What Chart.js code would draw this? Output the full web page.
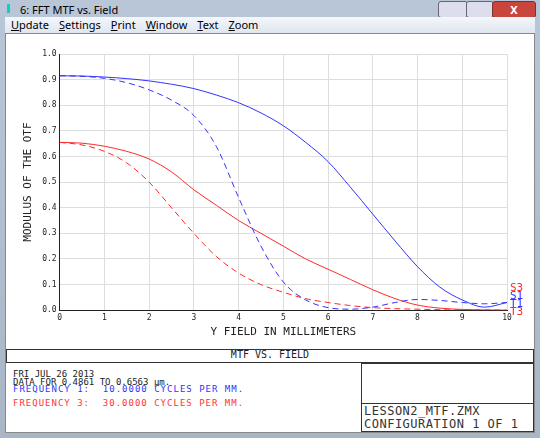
<!DOCTYPE html>
<html><head><meta charset="utf-8">
<script src="https://cdn.jsdelivr.net/npm/chart.js@4"></script>
<style>
body{margin:0;width:540px;height:438px;overflow:hidden;font-family:"Segoe UI","Noto Sans",sans-serif;background:#bfc9d6}
#win{position:absolute;left:0;top:0;width:540px;height:438px;background:linear-gradient(#b8c6d8,#a9b6c6)}
#title{position:absolute;left:20px;top:2px;font-size:11px;color:#000}
#icon{position:absolute;left:7px;top:4px;width:3px;height:9px;background:#1cc}
#btns{position:absolute;right:6px;top:0;width:96px;height:18px}
#menu{position:absolute;left:5px;top:17px;width:530px;height:16px;background:linear-gradient(#f4f7fb,#dfe6ef);font-size:11px}
#menu span{margin-left:6px;margin-right:4px;line-height:16px}
#content{position:absolute;left:5px;top:33px;width:530px;height:400px;background:#fff;border:1px solid #888;box-sizing:border-box}
#wrap{position:absolute;left:0;top:0;width:528px;height:305px}
.mono{font-family:"DejaVu Sans Mono",monospace;position:absolute;white-space:pre}
.box{position:absolute;border:1px solid #333;box-sizing:border-box}
</style></head><body>
<div id="win">
<div id="icon"></div><div id="title">6: FFT MTF vs. Field</div>
<div id="btns"><div style="position:absolute;left:0;top:1px;width:28px;height:15px;background:#dde;border:1px solid #667;border-radius:3px"></div><div style="position:absolute;left:28px;top:1px;width:26px;height:15px;background:#dde;border:1px solid #667;border-radius:3px"></div><div style="position:absolute;left:54px;top:1px;width:42px;height:15px;background:#c9463d;border:1px solid #733;border-radius:3px;color:#fff;font-size:11px;text-align:center;font-weight:bold">X</div></div>
<div id="menu"><span><u>U</u>pdate</span><span><u>S</u>ettings</span><span><u>P</u>rint</span><span><u>W</u>indow</span><span><u>T</u>ext</span><span><u>Z</u>oom</span></div>
<div id="content">
<div id="wrap"><canvas id="c"></canvas></div>
<div class="box" style="left:0;top:315px;width:528px;height:14px"></div>
<div class="mono" style="left:0;top:315px;width:528px;text-align:center;font-size:10px;color:#222">MTF VS. FIELD</div>
<div class="box" style="left:355px;top:329px;width:173px;height:69px"></div>
<div class="box" style="left:355px;top:369px;width:173px;height:29px"></div>
<div class="mono" style="left:7px;top:336px;font-size:9px;line-height:8px;color:#222">FRI JUL 26 2013
DATA FOR 0.4861 TO 0.6563 µm.</div>
<div class="mono" style="left:7px;top:350px;font-size:9px;letter-spacing:1px;color:#33f">FREQUENCY 1:  10.0000 CYCLES PER MM.</div>
<div class="mono" style="left:7px;top:364px;font-size:9px;letter-spacing:1px;color:#f33">FREQUENCY 3:  30.0000 CYCLES PER MM.</div>
<div class="mono" style="left:358px;top:371px;font-size:12px;line-height:13px;letter-spacing:0.5px;color:#333">LESSON2_MTF.ZMX
CONFIGURATION 1 OF 1</div>
</div></div>
<script>
const field = [0,0.5,1,1.5,2,2.5,3,3.5,4,4.5,5,5.5,6,6.5,7,7.5,8,8.5,9,9.5,10];
const s1 = [0.915,0.914,0.91,0.904,0.895,0.882,0.865,0.84,0.81,0.77,0.72,0.655,0.58,0.48,0.375,0.27,0.17,0.09,0.04,0.012,0.03];
const t1 = [0.915,0.913,0.905,0.888,0.86,0.82,0.76,0.64,0.44,0.25,0.11,0.04,0.01,0.004,0.012,0.03,0.042,0.038,0.03,0.025,0.03];
const s3 = [0.655,0.652,0.64,0.62,0.59,0.54,0.47,0.41,0.35,0.3,0.25,0.2,0.16,0.12,0.08,0.045,0.02,0.008,0.003,0.001,0.0];
const t3 = [0.655,0.645,0.62,0.575,0.5,0.4,0.3,0.21,0.145,0.1,0.07,0.045,0.03,0.018,0.01,0.006,0.004,0.002,0.001,0.001,0.0];
const yTicks = [0,0.1,0.2,0.3,0.4,0.5,0.6,0.7,0.8,0.9,1.0];
const BLUE = '#3333ff', RED = '#ff2a2a';
const mono = {family:'"DejaVu Sans Mono", monospace', size:8};

const sideLabels = {
  id:'sideLabels',
  afterDraw(chart){
    const {ctx, chartArea:a} = chart;
    ctx.save();
    ctx.font = '11px "DejaVu Sans Mono", monospace';
    ctx.textBaseline = 'middle';
    [['S3',RED],['S1',BLUE],['T1',BLUE],['T3',RED]].forEach((l,i)=>{
      ctx.fillStyle = l[1];
      ctx.fillText(l[0], a.right+3, a.bottom-22+i*8);
    });
    ctx.restore();
  }
};

new Chart(document.getElementById('c'), {
  type:'line',
  data:{datasets:[
    {data:field.map((x,i)=>({x,y:s1[i]})), borderColor:BLUE},
    {data:field.map((x,i)=>({x,y:t1[i]})), borderColor:BLUE, borderDash:[6,4]},
    {data:field.map((x,i)=>({x,y:s3[i]})), borderColor:RED},
    {data:field.map((x,i)=>({x,y:t3[i]})), borderColor:RED, borderDash:[6,4]}
  ]},
  plugins:[sideLabels],
  options:{
    responsive:true, maintainAspectRatio:false, animation:false,
    layout:{padding:{top:20,right:27,left:12,bottom:0}},
    elements:{point:{radius:0}, line:{borderWidth:1, cubicInterpolationMode:'monotone'}},
    plugins:{legend:{display:false}, tooltip:{enabled:false}},
    scales:{
      x:{type:'linear', min:0, max:10,
        ticks:{stepSize:1, color:'#222', font:mono, maxRotation:0},
        grid:{color:'#ddd', tickLength:0}, border:{color:'#222'},
        title:{display:true, text:'Y FIELD IN MILLIMETERS', color:'#222', font:{family:mono.family,size:11}, padding:{top:0,bottom:0}}},
      y:{min:0, max:1,
        afterBuildTicks(ax){ax.ticks = yTicks.map(v=>({value:v}));},
        ticks:{color:'#222', font:mono, callback:v=>v.toFixed(1)},
        grid:{color:'#ddd', tickLength:0}, border:{color:'#222'},
        title:{display:true, text:'MODULUS OF THE OTF', color:'#222', font:{family:mono.family,size:11}}}
    }
  }
});
</script>
</body></html>
